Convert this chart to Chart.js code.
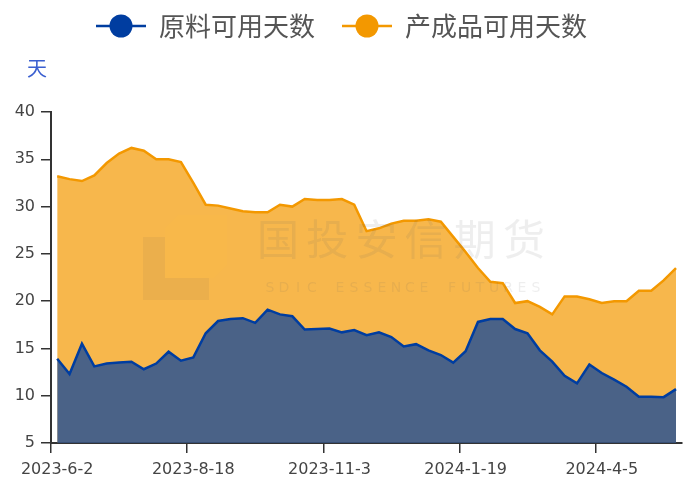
<!DOCTYPE html>
<html>
<head>
<meta charset="utf-8">
<script src="https://cdn.jsdelivr.net/npm/chart.js@4.4.1/dist/chart.umd.min.js"></script>
<style>
  body { margin: 0; background: #fff; }
  #wrap { width: 683px; height: 481px; }
</style>
</head>
<body>
<div id="wrap"><canvas id="daysChart"></canvas></div>
<script>
// weekly dates
const dates = [
    '2023-6-2', '2023-6-9', '2023-6-16', '2023-6-23', '2023-6-30', '2023-7-7', '2023-7-14',
    '2023-7-21', '2023-7-28', '2023-8-4', '2023-8-11', '2023-8-18', '2023-8-25', '2023-9-1',
    '2023-9-8', '2023-9-15', '2023-9-22', '2023-9-29', '2023-10-6', '2023-10-13', '2023-10-20',
    '2023-10-27', '2023-11-3', '2023-11-10', '2023-11-17', '2023-11-24', '2023-12-1', '2023-12-8',
    '2023-12-15', '2023-12-22', '2023-12-29', '2024-1-5', '2024-1-12', '2024-1-19', '2024-1-26',
    '2024-2-2', '2024-2-9', '2024-2-16', '2024-2-23', '2024-3-1', '2024-3-8', '2024-3-15',
    '2024-3-22', '2024-3-29', '2024-4-5', '2024-4-12', '2024-4-19', '2024-4-26', '2024-5-3',
    '2024-5-10', '2024-5-17'
];

const rawDays = [
    13.9, 12.3, 15.5, 13.1, 13.4, 13.5, 13.6, 12.8, 13.4, 14.65,
    13.7, 14.05, 16.6, 17.9, 18.1, 18.2, 17.7, 19.1, 18.6, 18.4,
    17.0, 17.05, 17.1, 16.7, 16.95, 16.4, 16.7, 16.2, 15.2, 15.45,
    14.8, 14.3, 13.5, 14.7, 17.8, 18.1, 18.1, 17.05, 16.6, 14.8,
    13.6, 12.1, 11.3, 13.3, 12.4, 11.7, 10.95, 9.9, 9.9, 9.85,
    10.7
];

const productDays = [
    33.2, 32.9, 32.7, 33.3, 34.6, 35.6, 36.2, 35.9, 35.0, 35.0,
    34.7, 32.5, 30.2, 30.1, 29.8, 29.5, 29.4, 29.4, 30.2, 30.0,
    30.8, 30.7, 30.7, 30.8, 30.2, 27.4, 27.7, 28.2, 28.5, 28.5,
    28.65, 28.4, 26.8, 25.2, 23.5, 22.05, 21.9, 19.8, 20.0, 19.4,
    18.6, 20.5, 20.5, 20.2, 19.8, 20.0, 20.0, 21.1, 21.1, 22.2,
    23.5
];

const seriesNames = ['原料可用天数', '产成品可用天数'];
const yTicks = [5, 10, 15, 20, 25, 30, 35, 40];
const labelEvery = 11;

const blue = '#003da0';
const orange = '#f39800';

// line + dot marker for the legend
function legendMarker(color) {
    const c = document.createElement('canvas');
    c.width = 50;
    c.height = 26;
    const g = c.getContext('2d');
    g.strokeStyle = color;
    g.lineWidth = 2.5;
    g.beginPath();
    g.moveTo(0, 13);
    g.lineTo(50, 13);
    g.stroke();
    g.fillStyle = color;
    g.beginPath();
    g.arc(25, 13, 11.5, 0, Math.PI * 2);
    g.fill();
    return c;
}
const markers = [legendMarker(blue), legendMarker(orange)];

const legendGap = {
    id: 'legendGap',
    beforeInit(chart) {
        const fit = chart.legend.fit;
        chart.legend.fit = function () {
            fit.bind(chart.legend)();
            this.height += 63;
        };
    }
};

const extras = {
    id: 'extras',
    afterDatasetsDraw(chart) {
        const ctx = chart.ctx;
        ctx.save();
        // watermark logo
        ctx.fillStyle = 'rgba(110, 90, 70, 0.09)';
        ctx.fillRect(143, 237, 22, 63);
        ctx.fillRect(165, 278, 44, 22);
        ctx.fillStyle = 'rgba(255, 190, 60, 0.12)';
        ctx.beginPath();
        ctx.moveTo(178, 215);
        ctx.lineTo(227, 215);
        ctx.lineTo(227, 265);
        ctx.lineTo(214, 278);
        ctx.lineTo(165, 278);
        ctx.lineTo(165, 228);
        ctx.closePath();
        ctx.fill();
        // watermark text
        ctx.fillStyle = 'rgba(90, 90, 90, 0.10)';
        ctx.textAlign = 'center';
        ctx.textBaseline = 'middle';
        ctx.font = '42px "Noto Sans CJK SC"';
        Array.from('国投安信期货').forEach((ch, i) => ctx.fillText(ch, 278 + i * 49.2, 239));
        ctx.font = '14px "DejaVu Sans"';
        Array.from('SDIC ESSENCE FUTURES').forEach((ch, i) => ctx.fillText(ch, 270 + i * 14, 288));
        ctx.restore();
    },
    afterDraw(chart) {
        const ctx = chart.ctx;
        ctx.save();
        ctx.fillStyle = '#3a5fd0';
        ctx.font = '20px "Noto Sans CJK SC"';
        ctx.textAlign = 'center';
        ctx.textBaseline = 'middle';
        ctx.fillText('天', 37, 68);
        ctx.restore();
    }
};

const tickFont = { family: 'DejaVu Sans', size: 16 };

new Chart(document.getElementById('daysChart'), {
    type: 'line',
    data: {
        labels: dates,
        datasets: [{
            label: seriesNames[0],
            data: rawDays,
            borderColor: blue,
            backgroundColor: 'rgba(0, 61, 160, 0.7)',
            borderWidth: 2.5,
            pointRadius: 0,
            fill: 'start',
            tension: 0
        }, {
            label: seriesNames[1],
            data: productDays,
            borderColor: orange,
            backgroundColor: 'rgba(243, 152, 0, 0.7)',
            borderWidth: 2.5,
            pointRadius: 0,
            fill: 'start',
            tension: 0
        }]
    },
    options: {
        responsive: true,
        maintainAspectRatio: false,
        animation: false,
        layout: { padding: { top: -14, left: 0, right: 0, bottom: 0 } },
        plugins: {
            tooltip: { enabled: false },
            legend: {
                labels: {
                    usePointStyle: true,
                    pointStyleWidth: 50,
                    padding: 27,
                    color: '#555',
                    font: { family: 'Noto Sans CJK SC', size: 26 },
                    generateLabels(chart) {
                        return Chart.defaults.plugins.legend.labels.generateLabels(chart)
                            .map((item, i) => ({ ...item, pointStyle: markers[i] }));
                    }
                }
            }
        },
        scales: {
            x: {
                offset: true,
                grid: {
                    offset: true,
                    drawOnChartArea: false,
                    tickLength: 10,
                    lineWidth: 1.5,
                    color: c => (c.index % labelEvery === 0 && c.index < dates.length) ? '#333' : 'rgba(0,0,0,0)'
                },
                border: { color: '#333', width: 2 },
                ticks: {
                    autoSkip: false,
                    maxRotation: 0,
                    padding: 7,
                    color: '#444',
                    font: tickFont,
                    callback(value, i) {
                        return i % labelEvery === 0 ? this.getLabelForValue(value) : '';
                    }
                },
                afterFit(scale) { scale.height = 38; }
            },
            y: {
                min: yTicks[0],
                max: yTicks[yTicks.length - 1],
                afterBuildTicks(scale) { scale.ticks = yTicks.map(v => ({ value: v })); },
                grid: { drawOnChartArea: false, tickLength: 10, lineWidth: 1.5, color: '#333' },
                border: { color: '#333', width: 2 },
                ticks: { padding: 6, color: '#444', font: tickFont },
                afterFit(scale) { scale.width = 51; }
            }
        }
    },
    plugins: [legendGap, extras]
});
</script>
</body>
</html>
